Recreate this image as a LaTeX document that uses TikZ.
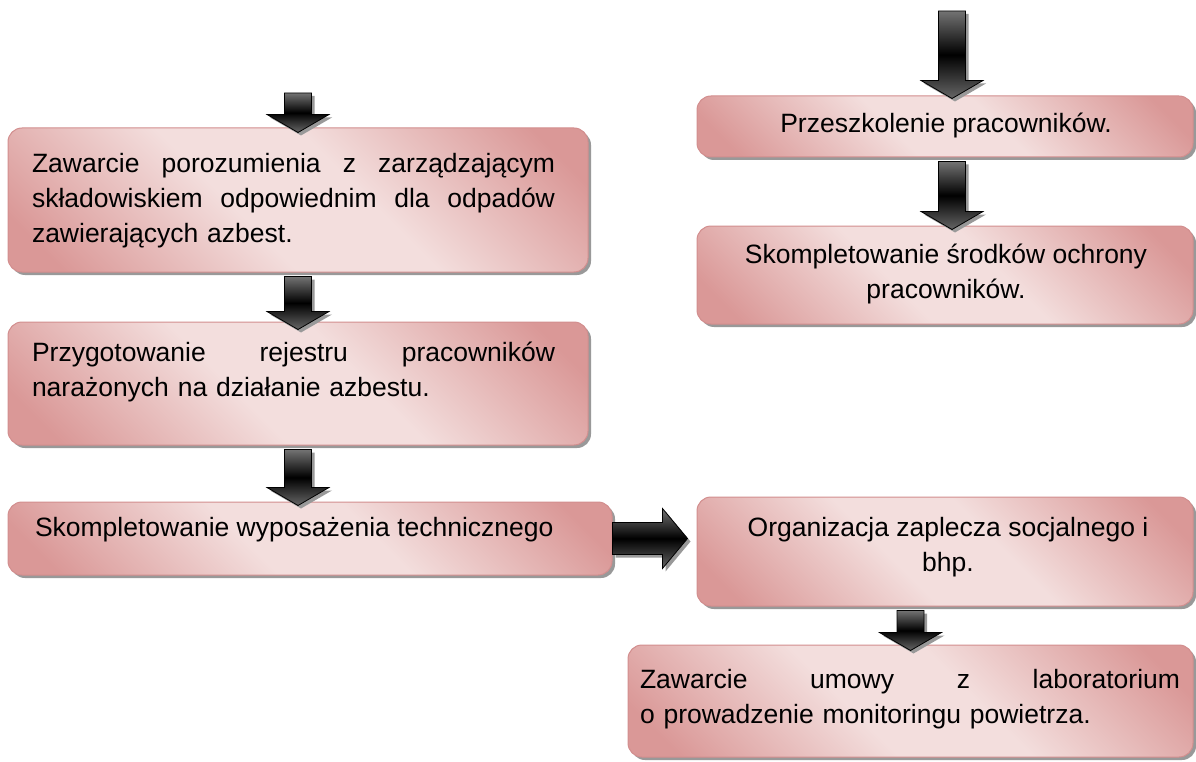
\documentclass[tikz,border=0pt]{standalone}
\usepackage{fontspec}
\setmainfont{Liberation Sans}
\usetikzlibrary{calc,shadows}

\definecolor{boxdark}{RGB}{218,152,151}
\definecolor{boxlight}{RGB}{243,222,221}
\definecolor{boxline}{RGB}{210,142,142}
\pgfdeclareverticalshading{boxshade}{100bp}{color(0bp)=(boxdark); color(20bp)=(boxdark); color(43bp)=(boxlight); color(57bp)=(boxlight); color(80bp)=(boxdark); color(100bp)=(boxdark)}

\tikzset{
	box/.style={rectangle,rounded corners=14pt,draw=boxline,line width=1pt,shading=boxshade,shading angle=-45,drop shadow={fill=black!40,opacity=1,shadow xshift=3pt,shadow yshift=-3pt}},
	txt/.style={inner sep=0pt,outer sep=0pt,font=\fontsize{26.5}{35}\selectfont},
	arrbody/.style={draw=black,line width=0.8pt,top color=black!55,bottom color=black!60,middle color=black},
	arrshadow/.style={fill=black!40}
}

\newcommand{\arrdown}[2]{%
	\fill[arrshadow] let \p1=(#1), \p2=(#2) in (\x1-10.5pt,\y1-3pt) -- (\x1+16.5pt,\y1-3pt) -- (\x1+16.5pt,\y2+15pt) -- (\x1+34pt,\y2+15pt) -- (\x1+3pt,\y2-3pt) -- (\x1-28pt,\y2+15pt) -- (\x1-10.5pt,\y2+15pt) -- cycle;
	\shade[arrbody] let \p1=(#1), \p2=(#2) in (\x1-13.5pt,\y1) -- (\x1+13.5pt,\y1) -- (\x1+13.5pt,\y2+18pt) -- (\x1+31pt,\y2+18pt) -- (\x1,\y2) -- (\x1-31pt,\y2+18pt) -- (\x1-13.5pt,\y2+18pt) -- cycle;
}
\newcommand{\arrright}[2]{%
	\fill[arrshadow] let \p1=(#1), \p2=(#2) in (\x1+3pt,\y1+13pt) -- (\x2-22pt,\y1+13pt) -- (\x2-22pt,\y1+27pt) -- (\x2+3pt,\y1-3pt) -- (\x2-22pt,\y1-33pt) -- (\x2-22pt,\y1-19pt) -- (\x1+3pt,\y1-19pt) -- cycle;
	\shade[arrbody] let \p1=(#1), \p2=(#2) in (\x1,\y1+16pt) -- (\x2-25pt,\y1+16pt) -- (\x2-25pt,\y1+30pt) -- (\x2,\y1) -- (\x2-25pt,\y1-30pt) -- (\x2-25pt,\y1-16pt) -- (\x1,\y1-16pt) -- cycle;
}

\begin{document}
\begin{tikzpicture}[x=1pt,y=-1pt]
	\useasboundingbox (0,0) rectangle (1196,762);
	\node[box,minimum width=580pt,minimum height=144pt] (boxA) at (298,200) {};
	\node[box,minimum width=580pt,minimum height=123pt] (boxB) at (298,383.5) {};
	\node[box,minimum width=604pt,minimum height=73pt] (boxC) at (310,538.5) {};
	\node[box,minimum width=496pt,minimum height=109pt] (boxD) at (945,551.5) {};
	\node[box,minimum width=565pt,minimum height=112pt] (boxE) at (910.5,701) {};
	\node[box,minimum width=496pt,minimum height=61pt] (boxF) at (945,126.5) {};
	\node[box,minimum width=496pt,minimum height=98pt] (boxG) at (945,275) {};

	\node[txt,text width=523pt,align=left,anchor=north west] (tA) at (32,153) {Zawarcie\hfill porozumienia\hfill z\hfill zarządzającym\\ składowiskiem\hfill odpowiednim\hfill dla\hfill odpadów\\ zawierających azbest.};
	\node[txt,text width=523pt,align=left,anchor=north west] (tB) at (32,342) {Przygotowanie\hfill rejestru\hfill pracowników\\ narażonych na działanie azbestu.};
	\node[txt,anchor=north west] (tC) at (35,517) {Skompletowanie wyposażenia technicznego};
	\node[txt,align=center,anchor=north] (tD) at (948,517) {Organizacja zaplecza socjalnego i\\ bhp.};
	\node[txt,text width=540pt,align=left,anchor=north west] (tE) at (640,669) {Zawarcie\hfill umowy\hfill z\hfill laboratorium\\ o prowadzenie monitoringu powietrza.};
	\node[txt,anchor=north] (tF) at (946,113) {Przeszkolenie pracowników.};
	\node[txt,align=center,anchor=north] (tG) at (946,244) {Skompletowanie środków ochrony\\ pracowników.};

	\coordinate (inL) at (298,93);
	\coordinate (inR) at (952,11);
	\arrdown{inL}{$(boxA.north)+(0,5)$}
	\arrdown{$(boxA.south)+(0,4)$}{$(boxB.north)+(0,8)$}
	\arrdown{$(boxB.south)+(0,4)$}{$(boxC.north)+(0,4)$}
	\arrright{boxC.east}{$(boxD.west |- boxC.east)+(-9,0)$}
	\arrdown{$(boxD.south -| boxE.north)+(0,4)$}{$(boxE.north)+(0,6)$}
	\arrdown{inR}{$(boxF.north)+(0,3)$}
	\arrdown{$(boxF.south)+(7,4)$}{$(boxG.north)+(7,4)$}
\end{tikzpicture}
\end{document}
